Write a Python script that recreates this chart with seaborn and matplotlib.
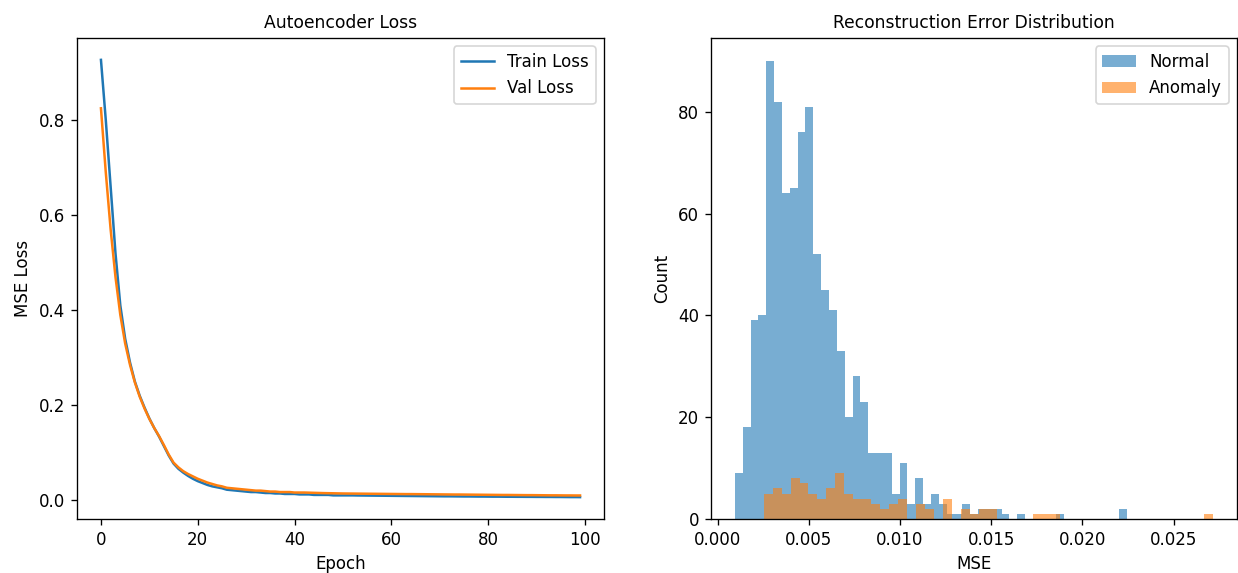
import numpy as np
import pandas as pd
import seaborn as sns
import matplotlib.pyplot as plt

# loss curves
train_loss = [
    0.927, 0.80, 0.66, 0.52, 0.41, 0.34, 0.29, 0.25, 0.22, 0.195,
    0.172, 0.152, 0.134, 0.114, 0.094, 0.077, 0.066, 0.058, 0.051, 0.045,
    0.040, 0.036, 0.032, 0.029, 0.027, 0.025, 0.022, 0.021, 0.020, 0.019,
    0.018, 0.017, 0.017, 0.016, 0.015, 0.015, 0.014, 0.014, 0.013, 0.013,
    0.013, 0.012, 0.012, 0.012, 0.011, 0.011, 0.011, 0.011, 0.010, 0.010,
    0.010, 0.010, 0.010, 0.0098, 0.0097, 0.0096, 0.0095, 0.0094, 0.0093, 0.0092,
    0.0091, 0.0090, 0.0089, 0.0088, 0.0087, 0.0086, 0.0085, 0.0084, 0.0083, 0.0082,
    0.0081, 0.0080, 0.0080, 0.0079, 0.0078, 0.0077, 0.0077, 0.0076, 0.0075, 0.0075,
    0.0074, 0.0073, 0.0073, 0.0072, 0.0071, 0.0071, 0.0070, 0.0070, 0.0069, 0.0069,
    0.0068, 0.0068, 0.0067, 0.0067, 0.0066, 0.0066, 0.0065, 0.0064, 0.0064, 0.0063,
]
val_loss = [
    0.825, 0.69, 0.57, 0.47, 0.39, 0.33, 0.285, 0.248, 0.218, 0.193,
    0.171, 0.152, 0.135, 0.116, 0.096, 0.079, 0.069, 0.061, 0.055, 0.050,
    0.045, 0.041, 0.037, 0.034, 0.031, 0.029, 0.026, 0.025, 0.024, 0.023,
    0.022, 0.021, 0.020, 0.020, 0.019, 0.018, 0.018, 0.017, 0.017, 0.017,
    0.016, 0.016, 0.016, 0.0157, 0.0154, 0.0151, 0.0148, 0.0146, 0.0144, 0.0142,
    0.0140, 0.0139, 0.0138, 0.0137, 0.0136, 0.0135, 0.0134, 0.0133, 0.0132, 0.0131,
    0.0130, 0.0129, 0.0128, 0.0127, 0.0127, 0.0126, 0.0125, 0.0124, 0.0123, 0.0122,
    0.0121, 0.0120, 0.0119, 0.0118, 0.0118, 0.0117, 0.0116, 0.0115, 0.0114, 0.0113,
    0.0112, 0.0111, 0.0110, 0.0109, 0.0109, 0.0108, 0.0107, 0.0106, 0.0105, 0.0105,
    0.0104, 0.0103, 0.0102, 0.0101, 0.0101, 0.0100, 0.0099, 0.0099, 0.0098, 0.0098,
]
epochs = list(range(len(train_loss)))

# histogram counts (50 bins each)
normal_range = (0.00095, 0.02245)
normal_counts = [
    9, 18, 39, 40, 90, 82, 64, 65, 76, 81,
    52, 45, 41, 33, 20, 28, 23, 13, 13, 13,
    5, 11, 3, 8, 3, 5, 3, 1, 1, 3,
    1, 2, 2, 2, 1, 0, 1, 0, 0, 0,
    0, 1, 0, 0, 0, 0, 0, 0, 0, 2,
]
anomaly_range = (0.00252, 0.02717)
anomaly_counts = [
    5, 6, 5, 8, 7, 5, 4, 6, 9, 5,
    4, 4, 3, 2, 3, 4, 0, 3, 2, 0,
    4, 0, 2, 1, 2, 2, 0, 0, 0, 0,
    1, 1, 1, 0, 0, 0, 0, 0, 0, 0,
    0, 0, 0, 0, 0, 0, 0, 0, 0, 1,
]


def binned(rng, counts):
    edges = np.linspace(rng[0], rng[1], len(counts) + 1)
    centers = (edges[:-1] + edges[1:]) / 2
    return pd.DataFrame({"mse": centers, "count": counts})


dpi = 120
fig = plt.figure(figsize=(1238 / dpi, 573 / dpi), dpi=dpi)
ax1 = fig.add_axes([77 / 1238, 54 / 573, 527 / 1238, 481 / 573])
ax2 = fig.add_axes([711 / 1238, 54 / 573, 526 / 1238, 481 / 573])

##########
# Loss
##########
loss = pd.DataFrame({"epoch": epochs, "train": train_loss, "val": val_loss})
sns.lineplot(data=loss, x="epoch", y="train", ax=ax1, color="C0", label="Train Loss")
sns.lineplot(data=loss, x="epoch", y="val", ax=ax1, color="C1", label="Val Loss")
ax1.set_title("Autoencoder Loss", fontsize=10.3)
ax1.set_xlabel("Epoch")
ax1.set_ylabel("MSE Loss")
ax1.legend(loc="upper right")

###########
# Histogram
###########
normal = binned(normal_range, normal_counts)
anomaly = binned(anomaly_range, anomaly_counts)
sns.histplot(data=normal, x="mse", weights="count", bins=len(normal_counts),
             binrange=normal_range, ax=ax2, color="C0", alpha=0.6,
             linewidth=0, label="Normal")
sns.histplot(data=anomaly, x="mse", weights="count", bins=len(anomaly_counts),
             binrange=anomaly_range, ax=ax2, color="C1", alpha=0.6,
             linewidth=0, label="Anomaly")
ax2.set_title("Reconstruction Error Distribution", fontsize=10.3)
ax2.set_xlabel("MSE")
ax2.set_ylabel("Count")
ax2.legend(loc="upper right")

fig.savefig("out.png", dpi=dpi)
